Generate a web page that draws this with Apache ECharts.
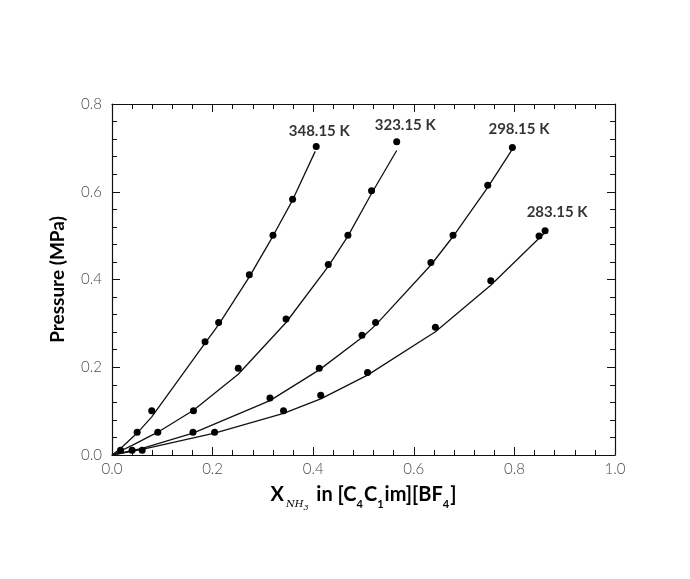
<!DOCTYPE html>
<html>
<head>
<meta charset="utf-8">
<title>NH3 solubility in [C4C1im][BF4]</title>
<script src="https://cdn.jsdelivr.net/npm/echarts@6/dist/echarts.min.js"></script>
<style>
  html, body { margin: 0; padding: 0; background: #fff; }
  #chart { width: 690px; height: 579px; }
</style>
</head>
<body>
<div id="chart"></div>
<script>
// measured points (mole fraction NH3, pressure MPa)
var x348 = [0.017, 0.050, 0.079, 0.185, 0.212, 0.273, 0.320, 0.359, 0.406];
var p348 = [0.011, 0.052, 0.101, 0.258, 0.302, 0.411, 0.501, 0.583, 0.703];
var x323 = [0.040, 0.091, 0.162, 0.251, 0.346, 0.430, 0.469, 0.516, 0.566];
var p323 = [0.011, 0.052, 0.101, 0.198, 0.310, 0.434, 0.501, 0.602, 0.714];
var x298 = [0.060, 0.161, 0.314, 0.412, 0.497, 0.524, 0.634, 0.678, 0.747, 0.796];
var p298 = [0.011, 0.052, 0.130, 0.198, 0.273, 0.302, 0.439, 0.501, 0.615, 0.701];
var x283 = [0.204, 0.341, 0.415, 0.508, 0.643, 0.753, 0.849, 0.861];
var p283 = [0.052, 0.101, 0.136, 0.188, 0.291, 0.397, 0.499, 0.511];

// model curves (vertices)
var cx348 = [0, 0.017, 0.050, 0.079, 0.185, 0.212, 0.273, 0.320, 0.359, 0.404];
var cp348 = [0, 0.015, 0.050, 0.087, 0.255, 0.297, 0.406, 0.499, 0.581, 0.692];
var cx323 = [0, 0.040, 0.091, 0.162, 0.251, 0.346, 0.430, 0.469, 0.516, 0.566];
var cp323 = [0, 0.022, 0.052, 0.102, 0.184, 0.302, 0.430, 0.499, 0.596, 0.694];
var cx298 = [0, 0.060, 0.161, 0.314, 0.412, 0.497, 0.524, 0.634, 0.678, 0.747, 0.796];
var cp298 = [0, 0.015, 0.050, 0.124, 0.194, 0.268, 0.296, 0.433, 0.498, 0.610, 0.697];
var cx283 = [0, 0.060, 0.204, 0.341, 0.415, 0.508, 0.643, 0.753, 0.849, 0.861];
var cp283 = [0, 0.013, 0.050, 0.095, 0.128, 0.182, 0.281, 0.387, 0.494, 0.507];

// curve labels
var tempNames = ['348.15 K', '323.15 K', '298.15 K', '283.15 K'];
var tempLabelX = [0.412, 0.583, 0.809, 0.885];
var tempLabelY = [0.739, 0.751, 0.743, 0.554];

var xTicks = [0, 1, 0.2];     // min, max, interval
var yTicks = [0, 0.8, 0.2];

function zip(a, b) {
    var out = [];
    for (var i = 0; i < a.length; i++) out.push([a[i], b[i]]);
    return out;
}

var chart = echarts.init(document.getElementById('chart'));

var ink = '#111';
var tickFont = { color: '#4a4a4a', fontSize: 15, fontFamily: 'Lato', fontWeight: 300 };

function axisBase(r, showLabel) {
    return {
        type: 'value',
        min: r[0], max: r[1], interval: r[2],
        axisLine: { show: true, onZero: false, lineStyle: { color: ink, width: 1.2 } },
        axisTick: { show: true, inside: true, length: 8, lineStyle: { color: ink, width: 1 } },
        minorTick: { show: true, splitNumber: 5, length: 5, lineStyle: { color: ink, width: 1 } },
        splitLine: { show: false },
        axisLabel: showLabel ? Object.assign({
            formatter: function (v) { return v.toFixed(1); }
        }, tickFont) : { show: false }
    };
}

var xBottom = axisBase(xTicks, true);
xBottom.position = 'bottom';
xBottom.axisLabel.margin = 7;
xBottom.name = '{b|X}{sub|NH}{sub3|3}{b| in [C}{s|4}{b|C}{s|1}{b|im][BF}{s|4}{b|]}';
xBottom.nameLocation = 'middle';
xBottom.nameGap = 24;
xBottom.nameTextStyle = {
    rich: {
        b: { fontFamily: 'Lato', fontWeight: 'bold', fontSize: 20, color: '#000', lineHeight: 26, verticalAlign: 'bottom' },
        s: { fontFamily: 'Lato', fontWeight: 'bold', fontSize: 11, color: '#000', lineHeight: 26, padding: [0, 1, -5, 0], verticalAlign: 'bottom' },
        sub: { fontFamily: 'DejaVu Serif', fontStyle: 'italic', fontSize: 10, color: '#000', lineHeight: 20, padding: [0, 0, -4, 2], verticalAlign: 'bottom' },
        sub3: { fontFamily: 'DejaVu Serif', fontStyle: 'italic', fontSize: 8, color: '#000', lineHeight: 20, padding: [0, 3, -7, 0], verticalAlign: 'bottom' }
    }
};

var xTop = axisBase(xTicks, false);
xTop.position = 'top';

var yLeft = axisBase(yTicks, true);
yLeft.position = 'left';
yLeft.axisLabel.margin = 10;
yLeft.name = 'Pressure (MPa)';
yLeft.nameLocation = 'middle';
yLeft.nameGap = 45;
yLeft.nameTextStyle = { fontFamily: 'Lato', fontWeight: 'bold', fontSize: 19, color: '#000' };

var yRight = axisBase(yTicks, false);
yRight.position = 'right';

var series = [];
var sets = [
    [x348, p348, cx348, cp348],
    [x323, p323, cx323, cp323],
    [x298, p298, cx298, cp298],
    [x283, p283, cx283, cp283]
];
sets.forEach(function (s, i) {
    series.push({
        name: tempNames[i] + ' model',
        type: 'line',
        xAxisIndex: 0, yAxisIndex: 0,
        data: zip(s[2], s[3]),
        symbol: 'none',
        lineStyle: { color: ink, width: 1.3 },
        z: 2
    });
    series.push({
        name: tempNames[i],
        type: 'scatter',
        xAxisIndex: 0, yAxisIndex: 0,
        data: zip(s[0], s[1]),
        symbol: 'circle',
        symbolSize: 7,
        itemStyle: { color: '#000', opacity: 1 },
        z: 3
    });
});

var labelData = [];
for (var i = 0; i < tempNames.length; i++) {
    labelData.push({ name: tempNames[i], value: [tempLabelX[i], tempLabelY[i]] });
}
series.push({
    type: 'scatter',
    xAxisIndex: 0, yAxisIndex: 0,
    data: labelData,
    symbolSize: 0,
    silent: true,
    label: {
        show: true,
        position: 'inside',
        formatter: '{b}',
        fontFamily: 'Lato',
        fontWeight: 'bold',
        fontSize: 15,
        color: '#000'
    }
});

var option = {
    backgroundColor: '#fff',
    animation: false,
    grid: { left: 112, right: 75, top: 104, bottom: 124, containLabel: false },
    xAxis: [xBottom, xTop],
    yAxis: [yLeft, yRight],
    series: series
};

chart.setOption(option);
</script>
</body>
</html>
